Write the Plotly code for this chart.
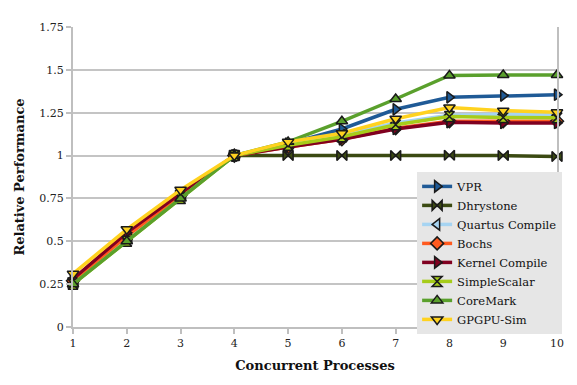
import plotly.graph_objects as go

x = [1, 2, 3, 4, 5, 6, 7, 8, 9, 10]
series_names = ["VPR", "Dhrystone", "Quartus Compile", "Bochs", "Kernel Compile",
                "SimpleScalar", "CoreMark", "GPGPU-Sim"]
vpr = [0.26, 0.51, 0.76, 1.0, 1.07, 1.155, 1.27, 1.34, 1.35, 1.355]
dhrystone = [0.26, 0.52, 0.77, 1.0, 1.0, 1.0, 1.0, 1.002, 1.0, 0.995]
quartus = [0.26, 0.52, 0.77, 1.0, 1.06, 1.12, 1.19, 1.235, 1.24, 1.235]
bochs = [0.27, 0.53, 0.77, 1.0, 1.05, 1.095, 1.16, 1.2, 1.2, 1.2]
kernel = [0.28, 0.55, 0.78, 1.0, 1.05, 1.095, 1.155, 1.195, 1.19, 1.19]
simplescalar = [0.25, 0.5, 0.75, 1.0, 1.06, 1.11, 1.18, 1.228, 1.222, 1.22]
coremark = [0.25, 0.5, 0.75, 1.0, 1.08, 1.2, 1.33, 1.467, 1.47, 1.47]
gpgpu = [0.31, 0.57, 0.8, 1.0, 1.08, 1.13, 1.215, 1.28, 1.262, 1.252]

values = [vpr, dhrystone, quartus, bochs, kernel, simplescalar, coremark, gpgpu]
colors = ["#1f5a96", "#3b4a12", "#a6d4f2", "#ff5a1f", "#800020", "#a6cc1a", "#5aa02c", "#ffd21f"]
symbols = ["triangle-right", "bowtie", "triangle-left", "diamond", "triangle-right",
           "hourglass", "triangle-up", "triangle-down"]

FONT = "DejaVu Serif"
fig = go.Figure()
for name, vals, c, s in zip(series_names, values, colors, symbols):
    fig.add_trace(go.Scatter(
        x=x, y=vals, name=name, mode="lines+markers",
        line=dict(color=c, width=3.5),
        marker=dict(symbol=s, size=10, color=c, line=dict(color="#1a1a1a", width=1.5)),
        cliponaxis=False,
    ))

fig.update_layout(
    width=577, height=385,
    margin=dict(l=65, r=28, t=19, b=66, autoexpand=False),
    plot_bgcolor="white", paper_bgcolor="white",
    font=dict(family=FONT, size=11, color="#222"),
    legend=dict(x=0.711, y=0.517, xanchor="left", yanchor="top",
                bgcolor="#e6e6e6", font=dict(family=FONT, size=11.5, color="#111"),
                tracegroupgap=0, itemwidth=30),
    showlegend=True,
)
fig.update_xaxes(
    range=[1, 10], tickmode="array", tickvals=x, ticktext=[str(v) for v in x],
    showgrid=False, showline=True, linecolor="#bfbfbf", linewidth=2,
    ticks="outside", ticklen=5, tickcolor="#bfbfbf", tickwidth=2,
    zeroline=False, automargin=False,
    title=dict(text="<b>Concurrent Processes</b>", font=dict(family=FONT, size=13, color="#111"), standoff=12),
)
fig.update_yaxes(
    range=[0, 1.75], tickmode="array",
    tickvals=[0, 0.25, 0.5, 0.75, 1, 1.25, 1.5, 1.75],
    ticktext=["0", "0.25", "0.5", "0.75", "1", "1.25", "1.5", "1.75"],
    showgrid=True, gridcolor="#c4c4c4", gridwidth=2,
    showline=True, linecolor="#bfbfbf", linewidth=2, mirror=True,
    ticks="outside", ticklen=5, tickcolor="#bfbfbf", tickwidth=2,
    zeroline=False, automargin=False,
    title=dict(text="<b>Relative Performance</b>", font=dict(family=FONT, size=13, color="#111"), standoff=12),
)
fig.write_html("out.html")
